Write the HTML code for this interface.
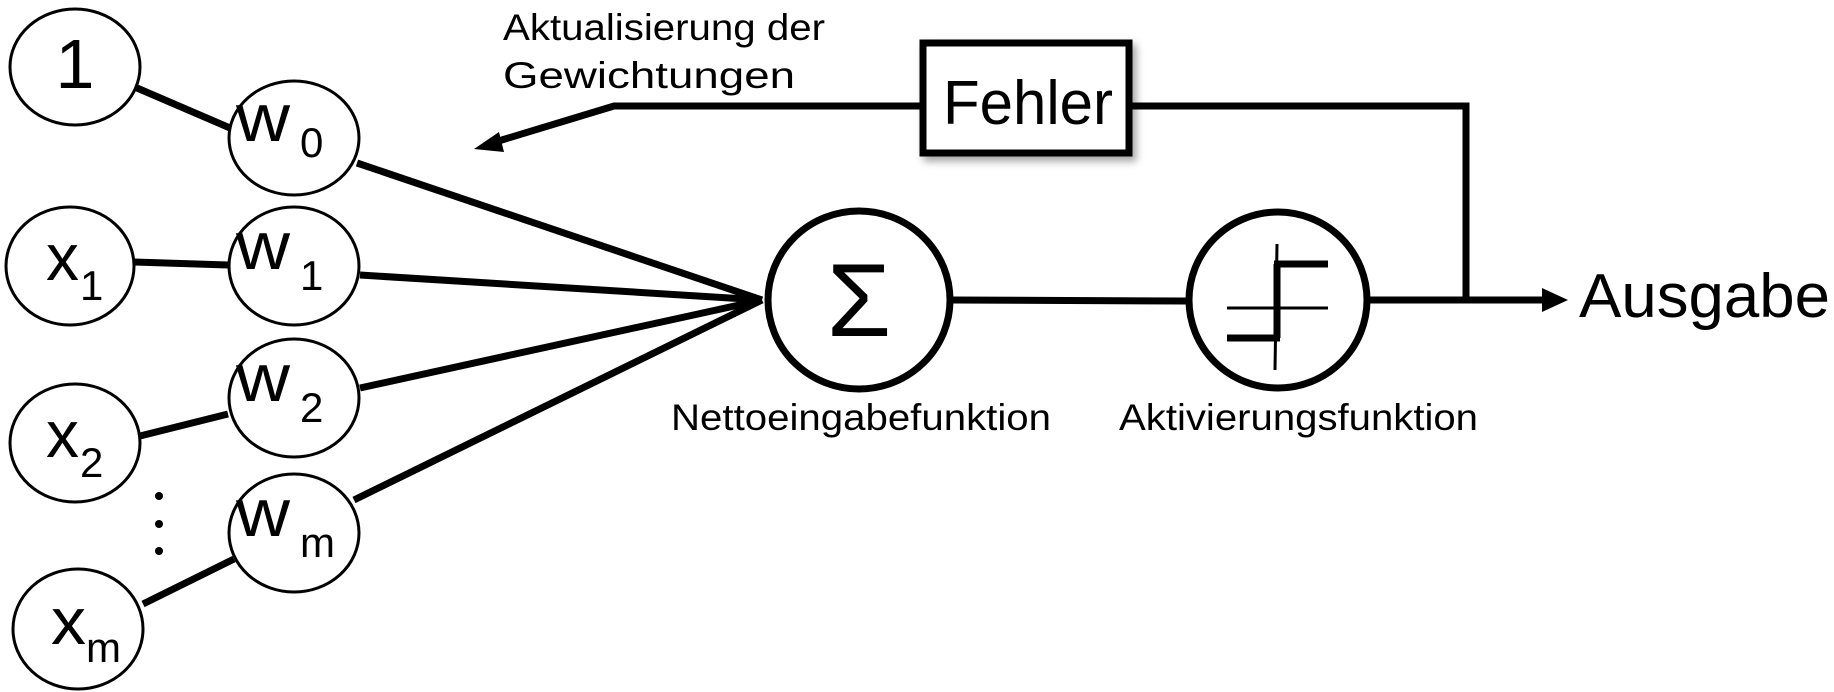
<!DOCTYPE html>
<html><head><meta charset="utf-8"><style>
html,body{margin:0;padding:0;background:#fff;}
svg{display:block;}
text{font-family:"Liberation Sans",sans-serif;fill:#000;}
</style></head><body>
<svg width="1834" height="692" viewBox="0 0 1834 692" xmlns="http://www.w3.org/2000/svg">
<defs>
<filter id="sh" x="-20%" y="-20%" width="150%" height="150%"><feDropShadow dx="4" dy="5" stdDeviation="4" flood-color="#000" flood-opacity="0.35"/></filter>
</defs>
<g stroke="#000" stroke-width="7" fill="none" stroke-linecap="butt">
<line x1="137" y1="88" x2="230" y2="128"/>
<line x1="134" y1="262" x2="228" y2="265"/>
<line x1="140" y1="436" x2="228" y2="414"/>
<line x1="143" y1="604" x2="234" y2="559"/>
<line x1="357" y1="163" x2="762" y2="300"/>
<line x1="360" y1="275" x2="762" y2="300"/>
<line x1="360" y1="388" x2="762" y2="300"/>
<line x1="354" y1="500" x2="762" y2="300"/>
<line x1="952" y1="300" x2="1187" y2="301"/>
<line x1="1370" y1="300" x2="1545" y2="300"/>
<polyline points="1132,106 1466,106 1466,300"/>
<polyline points="920,106 614,106 492,143"/>
</g>
<polygon points="1568,300 1542,288 1542,312" fill="#000"/>
<polygon points="474,149 499,132 504,152" fill="#000"/>
<g stroke="#000" stroke-width="3" fill="#fff">
<ellipse cx="75" cy="67" rx="65" ry="58"/>
<ellipse cx="294" cy="138" rx="65" ry="57"/>
<ellipse cx="70" cy="266" rx="64" ry="59"/>
<ellipse cx="294" cy="266" rx="65" ry="59"/>
<ellipse cx="75" cy="443" rx="65" ry="59"/>
<ellipse cx="294" cy="398" rx="65" ry="59"/>
<ellipse cx="294" cy="533" rx="65" ry="59"/>
<ellipse cx="78" cy="629" rx="65" ry="60"/>
</g>
<g stroke="#000" stroke-width="7" fill="#fff">
<ellipse cx="859" cy="300" rx="91" ry="89"/>
<ellipse cx="1278" cy="300" rx="89" ry="88"/>
<rect x="923" y="43" width="206" height="110" filter="url(#sh)"/>
</g>
<g fill="#000">
<circle cx="159" cy="496" r="4"/><circle cx="159" cy="524" r="4"/><circle cx="159" cy="551" r="4"/>
</g>
<g stroke="#000" fill="none">
<line x1="1277" y1="244" x2="1275" y2="370" stroke-width="3"/>
<line x1="1277" y1="264" x2="1277" y2="338" stroke-width="7"/>
<line x1="1274" y1="264" x2="1328" y2="264" stroke-width="7"/>
<line x1="1227" y1="308" x2="1328" y2="308" stroke-width="3"/>
<line x1="1227" y1="338" x2="1280" y2="338" stroke-width="7"/>
</g>
<text x="75" y="88" font-size="70" text-anchor="middle">1</text>
<text x="236" y="141" font-size="68" textLength="54" lengthAdjust="spacingAndGlyphs">w</text><text x="300" y="157" font-size="42">0</text>
<text x="46" y="280" font-size="66" textLength="33" lengthAdjust="spacingAndGlyphs">x</text><text x="80" y="300" font-size="42">1</text>
<text x="236" y="269" font-size="68" textLength="54" lengthAdjust="spacingAndGlyphs">w</text><text x="300" y="290" font-size="42">1</text>
<text x="46" y="457" font-size="66" textLength="33" lengthAdjust="spacingAndGlyphs">x</text><text x="80" y="477" font-size="42">2</text>
<text x="236" y="401" font-size="68" textLength="54" lengthAdjust="spacingAndGlyphs">w</text><text x="300" y="422" font-size="42">2</text>
<text x="236" y="536" font-size="68" textLength="54" lengthAdjust="spacingAndGlyphs">w</text><text x="300" y="557" font-size="42">m</text>
<text x="51" y="644" font-size="66" textLength="35" lengthAdjust="spacingAndGlyphs">x</text><text x="86" y="662" font-size="42">m</text>
<text x="859" y="336" font-size="104" text-anchor="middle">Σ</text>
<text x="943" y="124" font-size="62" textLength="170" lengthAdjust="spacingAndGlyphs">Fehler</text>
<text x="1579" y="317" font-size="62" textLength="251" lengthAdjust="spacingAndGlyphs">Ausgabe</text>
<text x="503" y="40" font-size="37" textLength="322" lengthAdjust="spacingAndGlyphs">Aktualisierung der</text>
<text x="503" y="88" font-size="37" textLength="292" lengthAdjust="spacingAndGlyphs">Gewichtungen</text>
<text x="671" y="430" font-size="37" textLength="380" lengthAdjust="spacingAndGlyphs">Nettoeingabefunktion</text>
<text x="1119" y="430" font-size="37" textLength="359" lengthAdjust="spacingAndGlyphs">Aktivierungsfunktion</text>
</svg>
</body></html>
